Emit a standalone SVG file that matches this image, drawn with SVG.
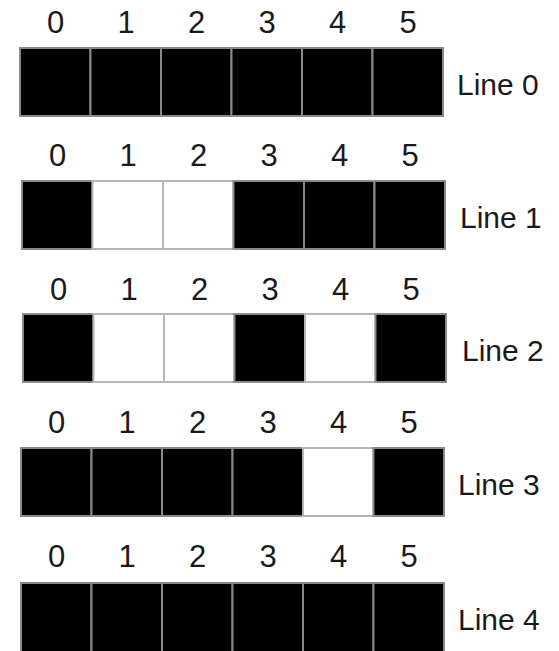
<svg xmlns="http://www.w3.org/2000/svg" width="559" height="651" viewBox="0 0 559 651">
<style>
.b{fill:#000;stroke:#8a8a8a;stroke-width:2}
.w{fill:#fff;stroke:#b5b5b5;stroke-width:2}
.d{font-family:"Liberation Sans",Arial,sans-serif;font-size:31px;fill:#1a1a1a;text-anchor:middle}
.l{font-family:"Liberation Sans",Arial,sans-serif;font-size:30px;fill:#1a1a1a}
</style>
<rect width="559" height="651" fill="#fff"/>
<defs>
<g id="nums">
<text class="d" x="55.5" y="0">0</text>
<text class="d" x="126" y="0">1</text>
<text class="d" x="196.5" y="0">2</text>
<text class="d" x="267" y="0">3</text>
<text class="d" x="337.5" y="0">4</text>
<text class="d" x="408" y="0">5</text>
</g>
</defs>
<g id="line0" transform="translate(0,0)">
<use href="#nums" transform="translate(0,33)"/>
<rect class="b" x="20" y="48" width="70.5" height="68"/>
<rect class="b" x="90.5" y="48" width="70.5" height="68"/>
<rect class="b" x="161" y="48" width="70.5" height="68"/>
<rect class="b" x="231.5" y="48" width="70.5" height="68"/>
<rect class="b" x="302" y="48" width="70.5" height="68"/>
<rect class="b" x="372.5" y="48" width="70.5" height="68"/>
<text class="l" x="457" y="95">Line 0</text>
</g>
<g id="line1" transform="translate(2,0)">
<use href="#nums" transform="translate(0,166)"/>
<rect class="b" x="20" y="181" width="70.5" height="68"/>
<rect class="w" x="90.5" y="181" width="70.5" height="68"/>
<rect class="w" x="161" y="181" width="70.5" height="68"/>
<rect class="b" x="231.5" y="181" width="70.5" height="68"/>
<rect class="b" x="302" y="181" width="70.5" height="68"/>
<rect class="b" x="372.5" y="181" width="70.5" height="68"/>
<text class="l" x="458" y="228">Line 1</text>
</g>
<g id="line2" transform="translate(3,0)">
<use href="#nums" transform="translate(0,300)"/>
<rect class="b" x="20" y="314" width="70.5" height="68"/>
<rect class="w" x="90.5" y="314" width="70.5" height="68"/>
<rect class="w" x="161" y="314" width="70.5" height="68"/>
<rect class="b" x="231.5" y="314" width="70.5" height="68"/>
<rect class="w" x="302" y="314" width="70.5" height="68"/>
<rect class="b" x="372.5" y="314" width="70.5" height="68"/>
<text class="l" x="459" y="361">Line 2</text>
</g>
<g id="line3" transform="translate(1,0)">
<use href="#nums" transform="translate(0,433)"/>
<rect class="b" x="20" y="448" width="70.5" height="68"/>
<rect class="b" x="90.5" y="448" width="70.5" height="68"/>
<rect class="b" x="161" y="448" width="70.5" height="68"/>
<rect class="b" x="231.5" y="448" width="70.5" height="68"/>
<rect class="w" x="302" y="448" width="70.5" height="68"/>
<rect class="b" x="372.5" y="448" width="70.5" height="68"/>
<text class="l" x="457" y="495">Line 3</text>
</g>
<g id="line4" transform="translate(1,0)">
<use href="#nums" transform="translate(0,567)"/>
<rect class="b" x="20" y="583" width="70.5" height="70"/>
<rect class="b" x="90.5" y="583" width="70.5" height="70"/>
<rect class="b" x="161" y="583" width="70.5" height="70"/>
<rect class="b" x="231.5" y="583" width="70.5" height="70"/>
<rect class="b" x="302" y="583" width="70.5" height="70"/>
<rect class="b" x="372.5" y="583" width="70.5" height="70"/>
<text class="l" x="457" y="630">Line 4</text>
</g>
</svg>
